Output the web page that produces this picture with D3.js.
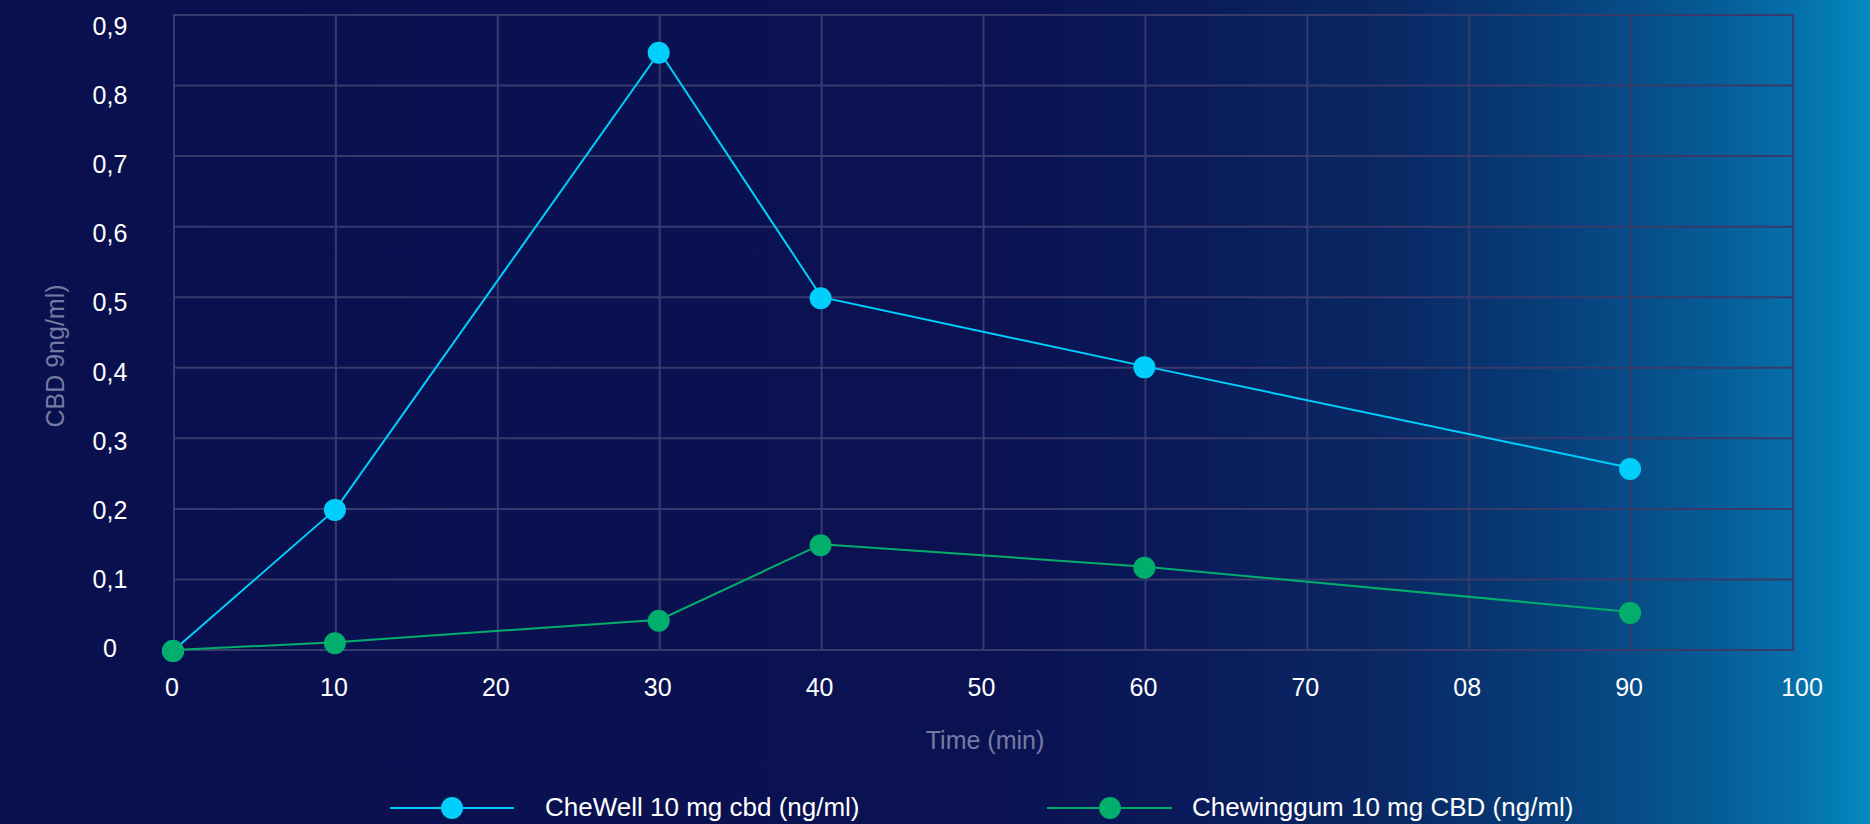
<!DOCTYPE html>
<html>
<head>
<meta charset="utf-8">
<script src="https://cdn.jsdelivr.net/npm/d3@7/dist/d3.min.js"></script>
<style>
  html, body { margin: 0; padding: 0; overflow: hidden; background: #0a104e; }
  svg { display: block; font-family: "Liberation Sans", Arial, Helvetica, sans-serif; }
</style>
</head>
<body>
<svg id="chart" width="1870" height="824"></svg>
<script>
// ---- data ----
const times = [0, 10, 30, 40, 60, 90];
const chewellValues = [0, 0.2, 0.848, 0.5, 0.402, 0.258];
const chewinggumValues = [0, 0.011, 0.043, 0.15, 0.118, 0.054];
const seriesNames = ["CheWell 10 mg cbd (ng/ml)", "Chewinggum 10 mg CBD (ng/ml)"];
const xTickValues = [0, 10, 20, 30, 40, 50, 60, 70, 80, 90, 100];
const xTickLabels = ["0", "10", "20", "30", "40", "50", "60", "70", "08", "90", "100"];
const yTickValues = [0, 0.1, 0.2, 0.3, 0.4, 0.5, 0.6, 0.7, 0.8, 0.9];
const yTickLabels = ["0", "0,1", "0,2", "0,3", "0,4", "0,5", "0,6", "0,7", "0,8", "0,9"];
const xTitle = "Time (min)";
const yTitle = "CBD 9ng/ml)";

// ---- styles ----
const cyan = "#00cffc";
const green = "#02ae6b";
const gridColor = "#383a6b";

const svg = d3.select("#chart");
const W = 1870, H = 824;

// background gradient
const defs = svg.append("defs");
const grad = defs.append("linearGradient")
  .attr("id", "bg").attr("gradientUnits", "userSpaceOnUse")
  .attr("x1", 0).attr("y1", 0).attr("x2", W).attr("y2", 0);
[[0, "#0a104e"], [1000, "#0a1252"], [1200, "#0a1b5b"], [1400, "#092965"],
 [1550, "#073e79"], [1700, "#065993"], [1800, "#0570aa"], [1870, "#0389c0"]]
  .forEach(([x, c]) => grad.append("stop").attr("offset", x / W).attr("stop-color", c));
svg.append("rect").attr("width", W).attr("height", H).attr("fill", "url(#bg)");

// scales
const x = d3.scaleLinear().domain([0, 100]).range([174, 1793]);
const y = d3.scaleLinear().domain([0, 0.9]).range([650, 15]);
const yLabel = d3.scaleLinear().domain([0, 0.9]).range([648, 26]);

// grid
const grid = svg.append("g");
grid.selectAll("line.v").data(xTickValues).join("line")
  .attr("x1", d => x(d)).attr("x2", d => x(d))
  .attr("y1", y(0.9) - 1).attr("y2", y(0) + 1)
  .attr("stroke", gridColor).attr("stroke-width", 2);
grid.selectAll("line.h").data(yTickValues).join("line")
  .attr("x1", x(0) - 1).attr("x2", x(100) + 1)
  .attr("y1", d => y(d)).attr("y2", d => y(d))
  .attr("stroke", gridColor).attr("stroke-width", 2);

// x tick labels
svg.append("g").selectAll("text").data(xTickValues).join("text")
  .attr("x", d => x(d) + (d === 100 ? 9 : -2)).attr("y", 696)
  .attr("text-anchor", "middle").attr("fill", "#ffffff").attr("font-size", 25)
  .text((d, i) => xTickLabels[i]);

// y tick labels
svg.append("g").selectAll("text").data(yTickValues).join("text")
  .attr("x", 110).attr("y", d => yLabel(d)).attr("dy", "0.36em")
  .attr("text-anchor", "middle").attr("fill", "#ffffff").attr("font-size", 25)
  .text((d, i) => yTickLabels[i]);

// axis titles
svg.append("text").attr("x", 985).attr("y", 749)
  .attr("text-anchor", "middle").attr("fill", "#767ba3").attr("font-size", 25)
  .text(xTitle);
svg.append("text").attr("transform", "translate(64,356) rotate(-90)")
  .attr("text-anchor", "middle").attr("fill", "#767ba3").attr("font-size", 25)
  .text(yTitle);

// series
const line = d3.line().x(d => x(d[0])).y(d => y(d[1]));
const series = [
  { name: seriesNames[0], color: cyan, pts: times.map((t, i) => [t, chewellValues[i]]) },
  { name: seriesNames[1], color: green, pts: times.map((t, i) => [t, chewinggumValues[i]]) }
];
series.forEach(s => {
  const g = svg.append("g");
  g.append("path").attr("d", line(s.pts)).attr("fill", "none")
    .attr("stroke", s.color).attr("stroke-width", 2);
  g.selectAll("circle").data(s.pts).join("circle")
    .attr("cx", d => x(d[0]) - 1).attr("cy", d => y(d[1]) + 1).attr("r", 11)
    .attr("fill", s.color);
});

// legend
const legendPos = [{ x0: 390, x1: 514, cx: 452, tx: 545 }, { x0: 1047, x1: 1172, cx: 1110, tx: 1192 }];
series.forEach((s, i) => {
  const p = legendPos[i];
  const g = svg.append("g");
  g.append("line").attr("x1", p.x0).attr("x2", p.x1).attr("y1", 808).attr("y2", 808)
    .attr("stroke", s.color).attr("stroke-width", 2);
  g.append("circle").attr("cx", p.cx).attr("cy", 808).attr("r", 11).attr("fill", s.color);
  g.append("text").attr("x", p.tx).attr("y", 816).attr("fill", "#ffffff")
    .attr("font-size", 26).text(s.name);
});
</script>
</body>
</html>
